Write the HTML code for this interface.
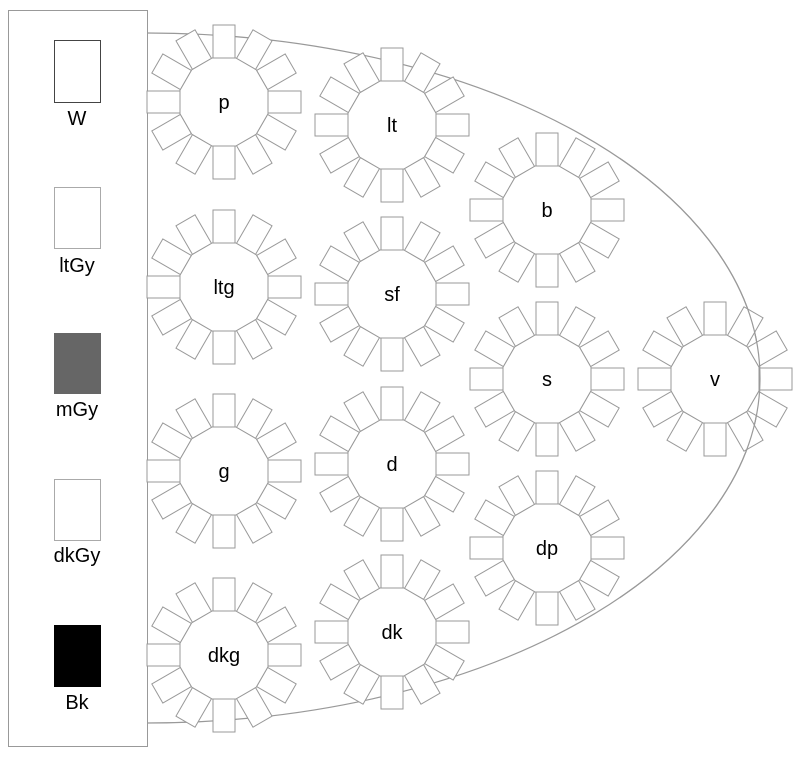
<!DOCTYPE html>
<html><head><meta charset="utf-8"><style>html,body{margin:0;padding:0;background:#fff}</style></head>
<body>
<svg id="s" width="800" height="752" xmlns="http://www.w3.org/2000/svg" font-family="Liberation Sans, sans-serif">
<defs><clipPath id="c"><rect x="620" y="0" width="180" height="752"/></clipPath></defs>
<rect x="0" y="0" width="800" height="752" fill="#fff"/>
<path d="M147,33 A613,345 0 0 1 147,723" fill="none" stroke="#999" stroke-width="1.2"/>
<rect x="8.5" y="10.5" width="139" height="736" fill="#fff" stroke="#999"/>
<rect x="54.5" y="40.5" width="46" height="62" fill="#fff" stroke="#444"/>
<text x="77" y="125" font-size="20" text-anchor="middle">W</text>
<rect x="54.5" y="187.5" width="46" height="61" fill="#fff" stroke="#aaa"/>
<text x="77" y="272" font-size="20" text-anchor="middle">ltGy</text>
<rect x="54" y="333" width="47" height="61" fill="#666"/>
<text x="77" y="416" font-size="20" text-anchor="middle">mGy</text>
<rect x="54.5" y="479.5" width="46" height="61" fill="#fff" stroke="#aaa"/>
<text x="77" y="562" font-size="20" text-anchor="middle">dkGy</text>
<rect x="54" y="625" width="47" height="62" fill="#000"/>
<text x="77" y="709" font-size="20" text-anchor="middle">Bk</text>
<g id="t"></g>
<path d="M147,33 A613,345 0 0 1 147,723" fill="none" stroke="#999" stroke-width="1.2" clip-path="url(#c)"/>
</svg>
<script>
var T=[["p",224,102],["lt",392,125],["b",547,210],["ltg",224,287],["sf",392,294],["s",547,379],["v",715,379],["g",224,471],["d",392,464],["dp",547,548],["dkg",224,655],["dk",392,632]];
var h="";
T.forEach(function(t){var x=t[1],y=t[2];
for(var i=0;i<12;i++){h+='<rect x="'+(x-11)+'" y="'+(y-77)+'" width="22" height="33" fill="#fff" stroke="#999" transform="rotate('+(i*30)+' '+x+' '+y+')"/>';}
var p=[];for(var i=0;i<12;i++){var a=(15+30*i)*Math.PI/180,r=45.55;p.push((x+r*Math.cos(a)).toFixed(1)+","+(y+r*Math.sin(a)).toFixed(1));}
h+='<polygon points="'+p.join(" ")+'" fill="#fff" stroke="#999"/>';
h+='<text x="'+x+'" y="'+(y+7)+'" font-size="20" text-anchor="middle">'+t[0]+'</text>';});
document.getElementById("t").innerHTML=h;
</script>
</body></html>
